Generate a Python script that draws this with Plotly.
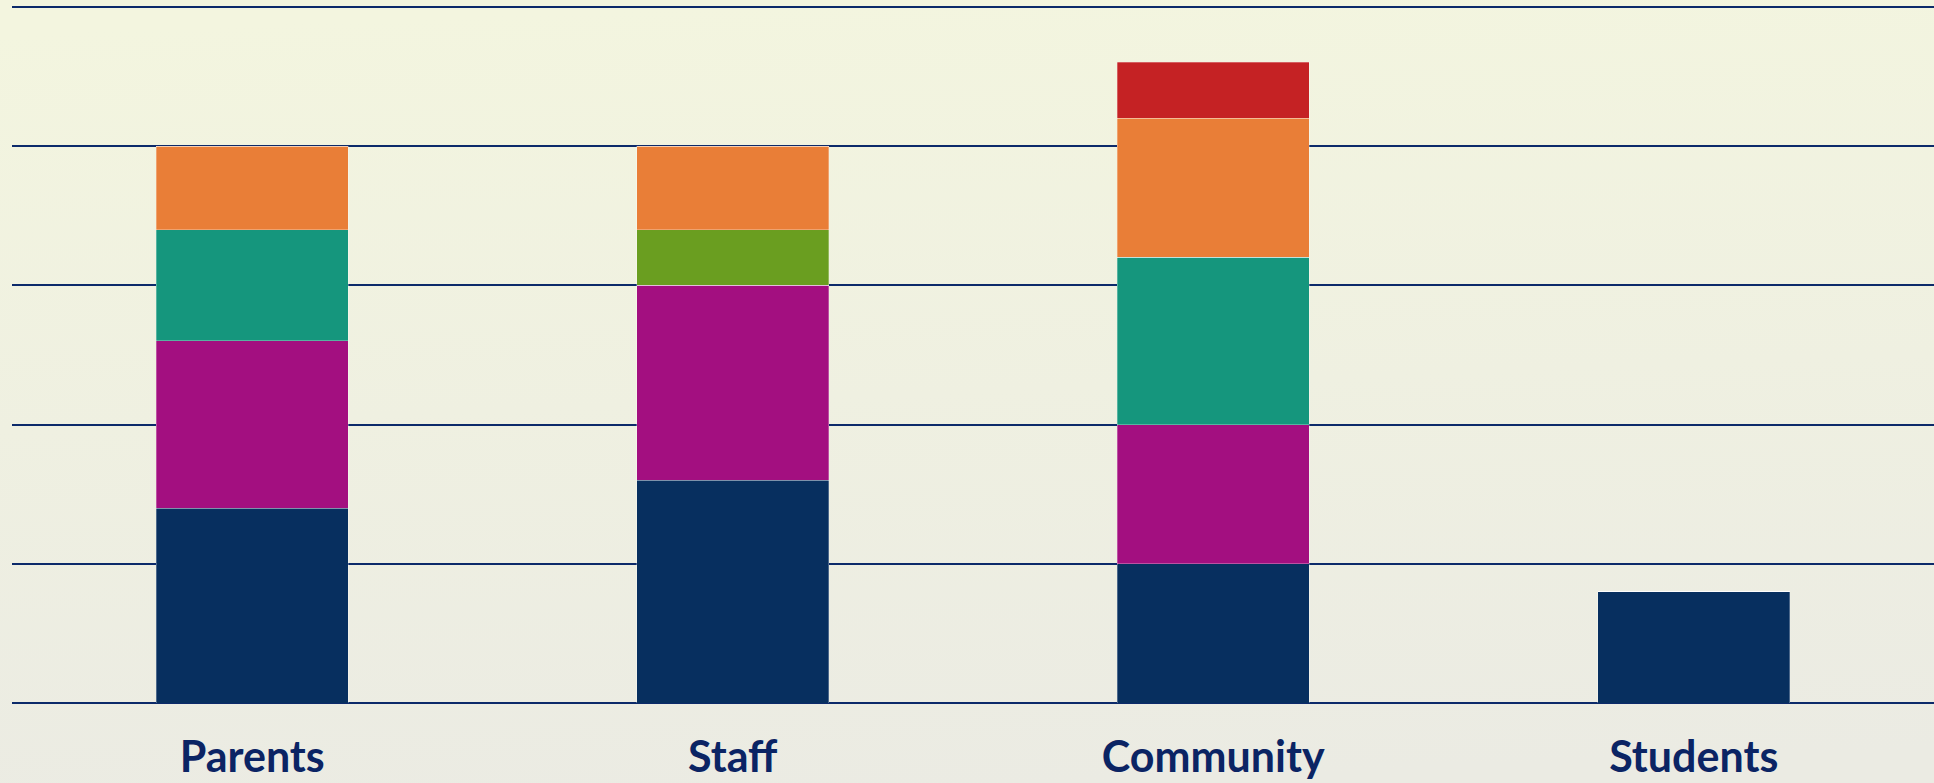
import plotly.graph_objects as go
import urllib.parse

categories = ["Parents", "Staff", "Community", "Students"]
series_names = ["Group A", "Group B", "Group C", "Group D", "Group E", "Group F"]
navy_vals = [7, 8, 5, 4]
magenta_vals = [6, 7, 5, 0]
teal_vals = [4, 0, 6, 0]
green_vals = [0, 2, 0, 0]
orange_vals = [3, 3, 5, 0]
red_vals = [0, 0, 2, 0]
tick_vals = [0, 5, 10, 15, 20, 25]

series = [navy_vals, magenta_vals, teal_vals, green_vals, orange_vals, red_vals]
colors = ["#072f5f", "#a30f80", "#15967d", "#6a9e20", "#e97e37", "#c52224"]

fig = go.Figure()
for name, vals, col in zip(series_names, series, colors):
    fig.add_trace(go.Bar(
        x=categories, y=vals, name=name,
        marker=dict(color=col, line=dict(width=0.8, color="rgba(255,255,255,0.35)")),
        hoverinfo="x+y+name",
    ))

W, H = 1934, 783
mt, mb, ml = 4, 80, 12
ph = H - mt - mb
pw = W - ml

svg = ('<svg xmlns="http://www.w3.org/2000/svg" width="1934" height="783" preserveAspectRatio="none">'
       '<defs><linearGradient id="g" x1="0.45" y1="0" x2="0.55" y2="1">'
       '<stop offset="0" stop-color="#f3f5df"/><stop offset="1" stop-color="#ebebe3"/>'
       '</linearGradient></defs><rect width="1934" height="783" fill="url(#g)"/></svg>')
src = "data:image/svg+xml;charset=utf-8," + urllib.parse.quote(svg)

fig.update_layout(
    width=W, height=H,
    barmode="stack", bargap=0.6,
    showlegend=False,
    margin=dict(l=ml, r=0, t=mt, b=mb, pad=0),
    paper_bgcolor="#eff0e1",
    plot_bgcolor="rgba(0,0,0,0)",
    images=[dict(source=src, xref="paper", yref="paper", x=-ml / pw, y=1 + mt / ph,
                 sizex=W / pw, sizey=H / ph, xanchor="left", yanchor="top",
                 sizing="stretch", layer="below")],
    xaxis=dict(
        showgrid=False, showline=False, zeroline=False, ticks="",
        tickfont=dict(family="Lato", size=43, color="#0b2464", weight="bold"),
        ticklabelstandoff=25,
    ),
    yaxis=dict(
        range=[0, 25.1], tickvals=tick_vals, showticklabels=False,
        showgrid=True, gridcolor="#0c2a6a", gridwidth=2,
        zeroline=True, zerolinecolor="#0c2a6a", zerolinewidth=2,
        showline=False,
    ),
)

fig.write_html("out.html", config={"displayModeBar": False},
               post_script="document.body.style.margin='0';document.body.style.overflow='hidden';")
